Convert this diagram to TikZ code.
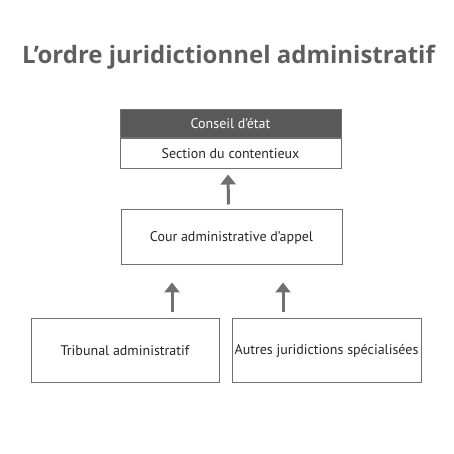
\documentclass[tikz,border=0pt]{standalone}
\usepackage{fontspec}
\setmainfont{PT Sans}
\newfontfamily\titlefont{Open Sans}
\usetikzlibrary{arrows.meta}
\definecolor{titlegray}{HTML}{5E5E5E}
\definecolor{headgray}{HTML}{595959}
\definecolor{linegray}{HTML}{707070}
\tikzset{
    court/.style={draw=linegray, line width=1pt, fill=white, inner sep=0pt,
        font=\fontsize{14}{16}\selectfont, text=black!85},
    uparrow/.style={draw=linegray, line width=3pt,
        -{Triangle[width=15pt,length=10pt]}}
}
\begin{document}
\begin{tikzpicture}[x=1pt, y=1pt]
        \useasboundingbox (0, 0) rectangle (454, 454);

        \node[font=\titlefont\bfseries\fontsize{24}{28}\selectfont, text=titlegray] (title) at (228.5, 397) {L’ordre juridictionnel administratif};

        \node[court, fill=headgray, text=white, minimum width=221pt, minimum height=28pt] (conseil) at (230.5, 330) {Conseil d’état};
        \node[court, minimum width=221pt, minimum height=30pt, anchor=north] (section) at (conseil.south) {Section du contentieux};

        \node[court, minimum width=221pt, minimum height=55pt] (cour) at (231.5, 216.5) {Cour administrative d’appel};
        \node[court, minimum width=188pt, minimum height=64pt] (tribunal) at (125, 103) {Tribunal administratif};
        \node[court, minimum width=189pt, minimum height=64pt] (autres) at (326.5, 103) {Autres juridictions spécialisées};

        \draw[uparrow, shorten <=5pt, shorten >=5pt] ([xshift=-3pt]cour.north) -- ([xshift=-2.5pt]section.south);
        \draw[uparrow, shorten <=6pt, shorten >=17pt] ([xshift=47pt]tribunal.north) -- ([xshift=-59.5pt]cour.south);
        \draw[uparrow, shorten <=6pt, shorten >=17pt] ([xshift=-43.5pt]autres.north) -- ([xshift=51.5pt]cour.south);
    \end{tikzpicture}
\end{document}
